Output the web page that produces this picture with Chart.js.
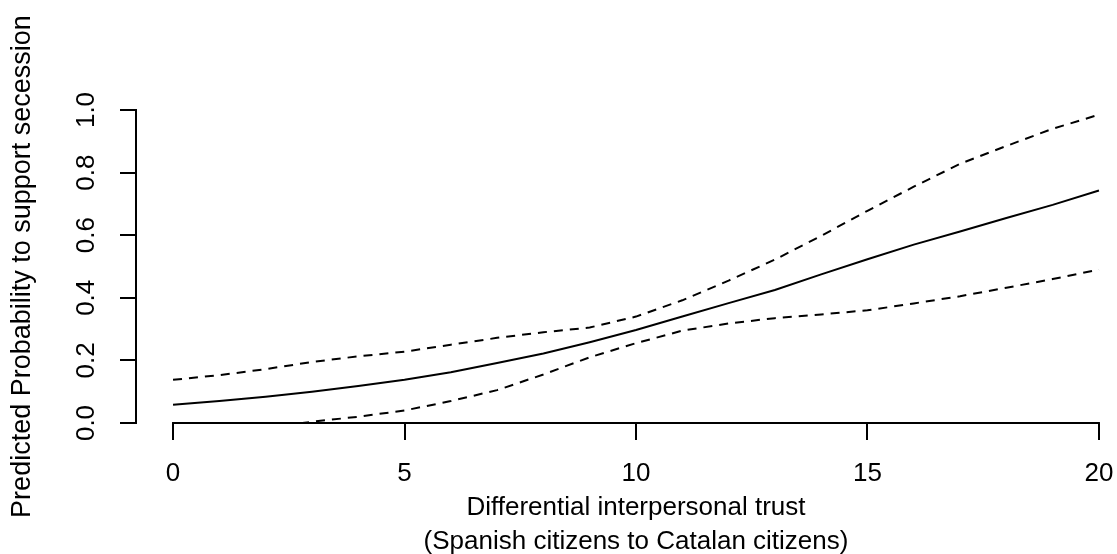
<!DOCTYPE html>
<html>
<head>
<meta charset="utf-8">
<script src="https://cdn.jsdelivr.net/npm/chart.js@4.4.1/dist/chart.umd.min.js"></script>
<style>
  html, body { margin: 0; padding: 0; background: #fff; overflow: hidden; }
</style>
</head>
<body>
<canvas id="chart" width="1117" height="554"></canvas>
<script>
// values
const trust = [0,1,2,3,4,5,6,7,8,9,10,11,12,13,14,15,16,17,18,19,20];
const prob  = [0.058,0.070,0.084,0.100,0.118,0.138,0.162,0.192,0.222,0.258,0.297,
               0.340,0.383,0.425,0.475,0.523,0.570,0.612,0.655,0.697,0.743];
const upper = [0.138,0.153,0.172,0.195,0.213,0.228,0.250,0.272,0.290,0.305,0.340,
               0.392,0.455,0.522,0.598,0.678,0.755,0.828,0.885,0.940,0.985];
const lower = [-0.050,-0.032,-0.015,0.004,0.020,0.040,0.070,0.105,0.155,0.210,0.255,
               0.295,0.318,0.335,0.347,0.360,0.382,0.405,0.432,0.460,0.490];

const xTicks = [0,5,10,15,20];
const yTicks = [0,0.2,0.4,0.6,0.8,1.0];

const xTitle = ["Differential interpersonal trust", "(Spanish citizens to Catalan citizens)"];
const yTitle = "Predicted Probability to support secession";

const font = { family: "'Liberation Sans', Arial, sans-serif", size: 26 };
const ink = "#000";

const pts = arr => trust.map((x, i) => ({ x: x, y: arr[i] }));

// R draws the x axis only from first to last tick, and centres xlab on the plot region
const rAxis = {
  id: "rAxis",
  afterDraw(chart) {
    const x = chart.scales.x;
    const c = chart.ctx;
    const bottom = chart.chartArea.bottom;
    c.save();
    c.strokeStyle = ink;
    c.lineWidth = 2;
    c.beginPath();
    c.moveTo(x.getPixelForValue(xTicks[0]) - 1, bottom);
    c.lineTo(x.getPixelForValue(xTicks[xTicks.length - 1]) + 1, bottom);
    c.stroke();

    // xlab: two lines centred on the middle of the x range
    const mid = x.getPixelForValue(10);
    c.fillStyle = ink;
    c.font = font.size + "px " + font.family;
    c.textAlign = "center";
    c.textBaseline = "alphabetic";
    c.fillText(xTitle[0], mid, bottom + 92);
    c.fillText(xTitle[1], mid, bottom + 126);
    c.restore();
  }
};

Chart.defaults.font.family = font.family;
Chart.defaults.color = ink;

new Chart(document.getElementById("chart"), {
  type: "line",
  data: {
    datasets: [
      { data: pts(prob),  borderColor: ink, borderWidth: 2, pointRadius: 0, tension: 0,
        clip: { left: false, top: false, right: false, bottom: 0 } },
      { data: pts(upper), borderColor: ink, borderWidth: 2, borderDash: [9, 7], pointRadius: 0, tension: 0,
        clip: { left: false, top: false, right: false, bottom: 0 } },
      { data: pts(lower), borderColor: ink, borderWidth: 2, borderDash: [9, 7], pointRadius: 0, tension: 0,
        clip: { left: false, top: false, right: false, bottom: 0 } }
    ]
  },
  options: {
    responsive: false,
    animation: false,
    devicePixelRatio: 1,
    layout: { padding: { top: 110, right: 0, bottom: 0, left: 0 } },
    plugins: { legend: { display: false }, tooltip: { enabled: false } },
    scales: {
      x: {
        type: "linear",
        min: -0.8,
        max: 20.39,
        afterBuildTicks: s => { s.ticks = xTicks.map(v => ({ value: v })); },
        afterFit: s => { s.height = 131; s.paddingLeft = 0; s.paddingRight = 0; },
        border: { display: false },
        grid: { drawOnChartArea: false, drawTicks: true, tickLength: 17, color: ink, lineWidth: 2 },
        ticks: { font: font, color: ink, padding: 18, maxRotation: 0, autoSkip: false }
      },
      y: {
        min: 0,
        max: 1,
        afterBuildTicks: s => { s.ticks = yTicks.map(v => ({ value: v })); },
        afterFit: s => { s.width = 136; },
        border: { display: true, color: ink, width: 2 },
        grid: { drawOnChartArea: false, drawTicks: true, tickLength: 16, color: ink, lineWidth: 2 },
        ticks: { font: font, color: ink, padding: 15, minRotation: 90, maxRotation: 90,
                 crossAlign: "center", callback: v => v.toFixed(1) },
        title: { display: true, text: yTitle, font: { family: font.family, size: 27 }, color: ink,
                 padding: { top: 6, bottom: 0 } }
      }
    }
  },
  plugins: [rAxis]
});
</script>
</body>
</html>
